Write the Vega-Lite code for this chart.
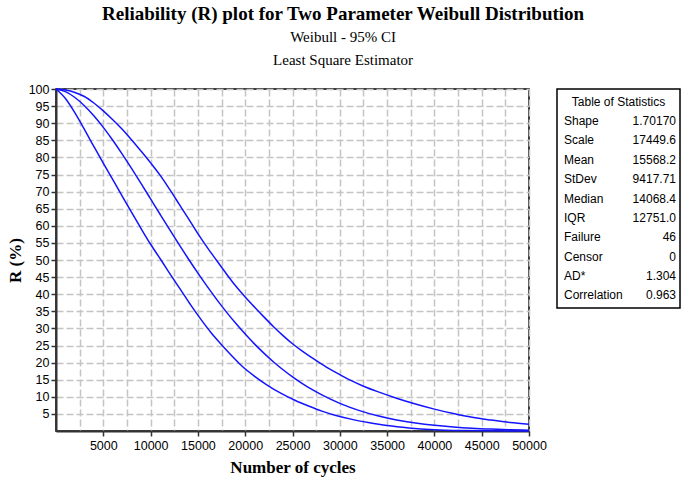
{
  "$schema": "https://vega.github.io/schema/vega-lite/v6.json",
  "background": "white",
  "padding": {"left": 5, "top": 5, "right": 5, "bottom": 5},
  "title": {
    "text": "Reliability (R) plot for Two Parameter Weibull Distribution",
    "subtitle": ["Weibull - 95% CI", "Least Square Estimator"],
    "anchor": "middle",
    "font": "Liberation Serif",
    "fontSize": 19,
    "fontWeight": "bold",
    "color": "black",
    "subtitleFont": "Liberation Serif",
    "subtitleFontSize": 15,
    "subtitleColor": "black",
    "subtitleLineHeight": 23,
    "subtitlePadding": 6,
    "offset": 14
  },
  "datasets": {
    "curves": [
      {"t": 0, "R": 100, "curve": "lower"},
      {"t": 1000, "R": 97.2, "curve": "lower"},
      {"t": 2000, "R": 93.0, "curve": "lower"},
      {"t": 3000, "R": 88.2, "curve": "lower"},
      {"t": 4000, "R": 83.2, "curve": "lower"},
      {"t": 5100, "R": 77.8, "curve": "lower"},
      {"t": 6400, "R": 71.6, "curve": "lower"},
      {"t": 7700, "R": 65.3, "curve": "lower"},
      {"t": 8800, "R": 60.1, "curve": "lower"},
      {"t": 10000, "R": 54.6, "curve": "lower"},
      {"t": 11100, "R": 50.0, "curve": "lower"},
      {"t": 12100, "R": 45.7, "curve": "lower"},
      {"t": 13200, "R": 41.2, "curve": "lower"},
      {"t": 14250, "R": 36.8, "curve": "lower"},
      {"t": 15300, "R": 32.7, "curve": "lower"},
      {"t": 16350, "R": 28.9, "curve": "lower"},
      {"t": 17450, "R": 25.4, "curve": "lower"},
      {"t": 18550, "R": 22.1, "curve": "lower"},
      {"t": 19650, "R": 19.0, "curve": "lower"},
      {"t": 21000, "R": 16.0, "curve": "lower"},
      {"t": 22400, "R": 13.3, "curve": "lower"},
      {"t": 23800, "R": 11.0, "curve": "lower"},
      {"t": 25250, "R": 9.0, "curve": "lower"},
      {"t": 26700, "R": 7.3, "curve": "lower"},
      {"t": 28100, "R": 5.8, "curve": "lower"},
      {"t": 29500, "R": 4.6, "curve": "lower"},
      {"t": 31300, "R": 3.4, "curve": "lower"},
      {"t": 33000, "R": 2.5, "curve": "lower"},
      {"t": 35000, "R": 1.6, "curve": "lower"},
      {"t": 37300, "R": 0.9, "curve": "lower"},
      {"t": 40000, "R": 0.4, "curve": "lower"},
      {"t": 43000, "R": 0.15, "curve": "lower"},
      {"t": 46000, "R": 0.05, "curve": "lower"},
      {"t": 50000, "R": 0, "curve": "lower"},
      {"t": 0, "R": 100, "curve": "mid"},
      {"t": 1000, "R": 99.23, "curve": "mid"},
      {"t": 2000, "R": 97.52, "curve": "mid"},
      {"t": 3000, "R": 95.12, "curve": "mid"},
      {"t": 4000, "R": 92.17, "curve": "mid"},
      {"t": 5000, "R": 88.77, "curve": "mid"},
      {"t": 6000, "R": 85.0, "curve": "mid"},
      {"t": 7000, "R": 80.95, "curve": "mid"},
      {"t": 8000, "R": 76.7, "curve": "mid"},
      {"t": 9000, "R": 72.32, "curve": "mid"},
      {"t": 10000, "R": 67.86, "curve": "mid"},
      {"t": 11000, "R": 63.38, "curve": "mid"},
      {"t": 12000, "R": 58.93, "curve": "mid"},
      {"t": 13000, "R": 54.55, "curve": "mid"},
      {"t": 14000, "R": 50.29, "curve": "mid"},
      {"t": 15000, "R": 46.16, "curve": "mid"},
      {"t": 16000, "R": 42.2, "curve": "mid"},
      {"t": 17000, "R": 38.42, "curve": "mid"},
      {"t": 18000, "R": 34.84, "curve": "mid"},
      {"t": 19000, "R": 31.48, "curve": "mid"},
      {"t": 20000, "R": 28.33, "curve": "mid"},
      {"t": 21000, "R": 25.4, "curve": "mid"},
      {"t": 22000, "R": 22.69, "curve": "mid"},
      {"t": 23000, "R": 20.19, "curve": "mid"},
      {"t": 24000, "R": 17.9, "curve": "mid"},
      {"t": 25000, "R": 15.82, "curve": "mid"},
      {"t": 26000, "R": 13.93, "curve": "mid"},
      {"t": 27000, "R": 12.22, "curve": "mid"},
      {"t": 28000, "R": 10.69, "curve": "mid"},
      {"t": 30000, "R": 8.09, "curve": "mid"},
      {"t": 32000, "R": 6.04, "curve": "mid"},
      {"t": 34000, "R": 4.45, "curve": "mid"},
      {"t": 36000, "R": 3.24, "curve": "mid"},
      {"t": 38000, "R": 2.33, "curve": "mid"},
      {"t": 40000, "R": 1.65, "curve": "mid"},
      {"t": 42000, "R": 1.16, "curve": "mid"},
      {"t": 44000, "R": 0.8, "curve": "mid"},
      {"t": 46000, "R": 0.55, "curve": "mid"},
      {"t": 48000, "R": 0.37, "curve": "mid"},
      {"t": 50000, "R": 0.25, "curve": "mid"},
      {"t": 0, "R": 100, "curve": "upper"},
      {"t": 1000, "R": 99.7, "curve": "upper"},
      {"t": 2000, "R": 99.0, "curve": "upper"},
      {"t": 3000, "R": 97.8, "curve": "upper"},
      {"t": 4000, "R": 95.9, "curve": "upper"},
      {"t": 5000, "R": 93.6, "curve": "upper"},
      {"t": 6000, "R": 91.0, "curve": "upper"},
      {"t": 7000, "R": 88.2, "curve": "upper"},
      {"t": 8000, "R": 85.1, "curve": "upper"},
      {"t": 9000, "R": 81.8, "curve": "upper"},
      {"t": 10000, "R": 78.4, "curve": "upper"},
      {"t": 11000, "R": 74.8, "curve": "upper"},
      {"t": 12000, "R": 70.7, "curve": "upper"},
      {"t": 13000, "R": 66.4, "curve": "upper"},
      {"t": 14000, "R": 62.1, "curve": "upper"},
      {"t": 15000, "R": 57.7, "curve": "upper"},
      {"t": 16000, "R": 53.6, "curve": "upper"},
      {"t": 17000, "R": 49.8, "curve": "upper"},
      {"t": 18000, "R": 46.0, "curve": "upper"},
      {"t": 19000, "R": 42.4, "curve": "upper"},
      {"t": 20000, "R": 39.2, "curve": "upper"},
      {"t": 21000, "R": 36.2, "curve": "upper"},
      {"t": 22000, "R": 33.3, "curve": "upper"},
      {"t": 23000, "R": 30.5, "curve": "upper"},
      {"t": 24000, "R": 27.9, "curve": "upper"},
      {"t": 25000, "R": 25.5, "curve": "upper"},
      {"t": 26000, "R": 23.4, "curve": "upper"},
      {"t": 27000, "R": 21.5, "curve": "upper"},
      {"t": 28000, "R": 19.7, "curve": "upper"},
      {"t": 29000, "R": 18.0, "curve": "upper"},
      {"t": 30000, "R": 16.5, "curve": "upper"},
      {"t": 31000, "R": 15.0, "curve": "upper"},
      {"t": 32500, "R": 13.1, "curve": "upper"},
      {"t": 34000, "R": 11.5, "curve": "upper"},
      {"t": 36000, "R": 9.6, "curve": "upper"},
      {"t": 38000, "R": 7.9, "curve": "upper"},
      {"t": 40000, "R": 6.4, "curve": "upper"},
      {"t": 42000, "R": 5.1, "curve": "upper"},
      {"t": 44000, "R": 4.0, "curve": "upper"},
      {"t": 46000, "R": 3.2, "curve": "upper"},
      {"t": 48000, "R": 2.5, "curve": "upper"},
      {"t": 50000, "R": 2.0, "curve": "upper"}
    ],
    "stats": [
      {"stat": "Shape", "value": "1.70170"},
      {"stat": "Scale", "value": "17449.6"},
      {"stat": "Mean", "value": "15568.2"},
      {"stat": "StDev", "value": "9417.71"},
      {"stat": "Median", "value": "14068.4"},
      {"stat": "IQR", "value": "12751.0"},
      {"stat": "Failure", "value": "46"},
      {"stat": "Censor", "value": "0"},
      {"stat": "AD*", "value": "1.304"},
      {"stat": "Correlation", "value": "0.963"}
    ],
    "header": [
      {"stat": "Table of Statistics"}
    ]
  },
  "spacing": 8,
  "hconcat": [
    {
      "width": 473,
      "height": 342,
      "data": {"name": "curves"},
      "mark": {"type": "line", "color": "#1414ff", "strokeWidth": 1.5, "interpolate": "monotone"},
      "encoding": {
        "x": {
          "field": "t",
          "type": "quantitative",
          "title": "Number of cycles",
          "scale": {"domain": [0, 50000], "nice": false},
          "axis": {
            "values": [2500, 5000, 7500, 10000, 12500, 15000, 17500, 20000, 22500, 25000, 27500, 30000, 32500, 35000, 37500, 40000, 42500, 45000, 47500, 50000],
            "format": "d",
            "labelExpr": "datum.value % 5000 === 0 ? datum.label : ''",
            "tickOpacity": {"condition": {"test": "datum.value % 5000 === 0", "value": 1}, "value": 0},
            "labelPadding": 3,
            "titlePadding": 8,
            "labelOverlap": false,
            "labelFlush": false
          }
        },
        "y": {
          "field": "R",
          "type": "quantitative",
          "title": "R (%)",
          "scale": {"domain": [0, 100], "nice": false},
          "axis": {
            "values": [5, 10, 15, 20, 25, 30, 35, 40, 45, 50, 55, 60, 65, 70, 75, 80, 85, 90, 95, 100],
            "labelPadding": 2,
            "titlePadding": 4,
            "labelOverlap": false,
            "labelFlush": false
          }
        },
        "detail": {"field": "curve", "type": "nominal"},
        "order": {"field": "t", "type": "quantitative"}
      }
    },
    {
      "width": 123,
      "height": 219,
      "layer": [
        {
          "data": {"name": "header"},
          "mark": {"type": "text", "align": "center", "baseline": "middle", "fontSize": 12, "font": "Liberation Sans", "color": "black"},
          "encoding": {
            "x": {"datum": 0.5, "type": "quantitative", "scale": {"domain": [0, 1]}, "axis": null},
            "y": {"field": "stat", "type": "nominal", "scale": {"type": "point", "padding": 0.65, "domain": ["Table of Statistics", "Shape", "Scale", "Mean", "StDev", "Median", "IQR", "Failure", "Censor", "AD*", "Correlation"]}, "axis": null},
            "text": {"field": "stat"}
          }
        },
        {
          "data": {"name": "stats"},
          "mark": {"type": "text", "align": "left", "baseline": "middle", "dx": 7, "fontSize": 12, "font": "Liberation Sans", "color": "black"},
          "encoding": {
            "x": {"datum": 0, "type": "quantitative", "scale": {"domain": [0, 1]}, "axis": null},
            "y": {"field": "stat", "type": "nominal", "axis": null},
            "text": {"field": "stat"}
          }
        },
        {
          "data": {"name": "stats"},
          "mark": {"type": "text", "align": "right", "baseline": "middle", "dx": -4, "fontSize": 12, "font": "Liberation Sans", "color": "black"},
          "encoding": {
            "x": {"datum": 1, "type": "quantitative", "scale": {"domain": [0, 1]}, "axis": null},
            "y": {"field": "stat", "type": "nominal", "axis": null},
            "text": {"field": "value"}
          }
        }
      ]
    }
  ],
  "config": {
    "font": "Liberation Sans",
    "view": {"stroke": "black", "strokeWidth": 1.5},
    "axis": {
      "domainColor": "#333333",
      "domainWidth": 2,
      "tickColor": "#333333",
      "tickWidth": 1.5,
      "tickSize": 5,
      "labelFont": "Liberation Sans",
      "labelFontSize": 12.5,
      "labelColor": "black",
      "titleFont": "Liberation Serif",
      "titleFontSize": 17,
      "titleFontWeight": "bold",
      "titleColor": "black",
      "grid": true,
      "gridColor": "#c4c4c4",
      "gridDash": [7, 3],
      "gridWidth": 1.5
    }
  }
}
